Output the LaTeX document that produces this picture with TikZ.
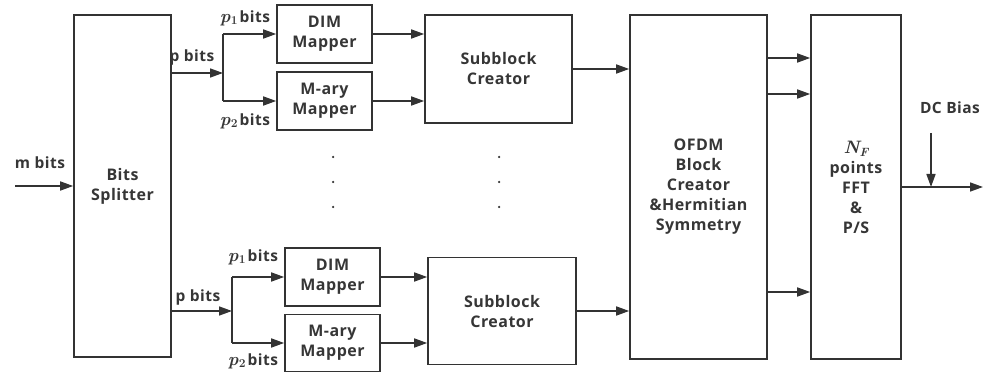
\documentclass[tikz,border=0pt]{standalone}
\usepackage{fontspec}
\setmainfont{Open Sans}[LetterSpace=3]
\newfontfamily\lmr{Latin Modern Roman}
\usetikzlibrary{arrows.meta,calc}
\definecolor{ln}{HTML}{333333}
\definecolor{tx}{HTML}{363636}
\newcommand\psub[1]{{\lmr\itshape\fontsize{18}{18}\selectfont p}\kern0.3pt\raisebox{-2.5pt}{\lmr\fontsize{12}{12}\selectfont #1}\kern2pt}
\newcommand\nf{{\lmr\itshape\fontsize{18}{18}\selectfont N}\raisebox{-3pt}{\lmr\itshape\fontsize{12}{12}\selectfont F}}
\tikzset{
  blk/.style={draw=ln,line width=1.6pt,inner sep=0pt,align=center,text=tx,
    font=\fontsize{16}{20}\selectfont\bfseries},
  arr/.style={draw=ln,line width=1.6pt,-{Triangle[length=13pt,width=9pt]}},
  wire/.style={draw=ln,line width=1.6pt},
  lbl/.style={text=tx,font=\fontsize{15.5}{18}\selectfont\bfseries,inner sep=0pt},
  dotm/.style={fill=ln,circle,inner sep=0pt,minimum size=2.5pt}
}
\begin{document}
\begin{tikzpicture}[x=1pt,y=-1pt]
\useasboundingbox (0,0) rectangle (983,374);
% boxes
\node[blk,minimum width=97pt,minimum height=342pt] (split) at (122.5,186) {Bits\\Splitter};
\node[blk,minimum width=95pt,minimum height=58pt] (dim1) at (324.5,34) {DIM\\Mapper};
\node[blk,minimum width=95pt,minimum height=58pt] (mary1) at (324.5,101) {M-ary\\Mapper};
\node[blk,minimum width=147pt,minimum height=108pt] (sub1) at (498.5,69) {Subblock\\Creator};
\node[blk,minimum width=95pt,minimum height=58pt] (dim2) at (332.5,277) {DIM\\Mapper};
\node[blk,minimum width=95pt,minimum height=57pt] (mary2) at (332.5,343) {M-ary\\Mapper};
\node[blk,minimum width=148pt,minimum height=107pt] (sub2) at (502,311) {Subblock\\Creator};
\node[blk,minimum width=137pt,minimum height=344pt] (ofdm) at (698.5,187) {OFDM\\Block\\Creator\\\&Hermitian\\Symmetry};
\node[blk,minimum width=90pt,minimum height=344pt] (fft) at (856,187) {\nf\\points\\FFT\\\&\\P/S};
% input
\coordinate (min) at (15,186);
\draw[arr] (min) -- (min -| split.west);
\node[lbl] (mlbl) at (40,163) {m bits};
% top branch
\coordinate (b1) at (223,73);
\draw[arr] (split.east |- b1) -- (b1);
\node[lbl] (plbl1) at (192,57) {p bits};
\draw[wire] (b1 |- dim1) -- (b1 |- mary1);
\draw[arr] (b1 |- dim1) -- (dim1.west);
\draw[arr] (b1 |- mary1) -- (mary1.west);
\node[lbl] (p1a) at (245,18) {\psub{1}bits};
\node[lbl] (p2a) at (245,121) {\psub{2}bits};
\draw[arr] (dim1.east) -- (dim1.east -| sub1.west);
\draw[arr] (mary1.east) -- (mary1.east -| sub1.west);
\draw[arr] (sub1.east) -- (sub1.east -| ofdm.west);
% bottom branch
\coordinate (b2) at (232,311);
\draw[arr] (split.east |- b2) -- (b2);
\node[lbl] (plbl2) at (198,297) {p bits};
\draw[wire] (b2 |- dim2) -- (b2 |- mary2);
\draw[arr] (b2 |- dim2) -- (dim2.west);
\draw[arr] (b2 |- mary2) -- (mary2.west);
\node[lbl] (p1b) at (253,257) {\psub{1}bits};
\node[lbl] (p2b) at (253,361) {\psub{2}bits};
\draw[arr] (dim2.east) -- (dim2.east -| sub2.west);
\draw[arr] (mary2.east) -- (mary2.east -| sub2.west);
\draw[arr] (sub2.east) -- (sub2.east -| ofdm.west);
% dots
\foreach \y [count=\i] in {157,182,207} {
  \node[dotm] (da\i) at (333,\y) {};
  \node[dotm] (db\i) at (499,\y) {};
}
% ofdm to fft
\foreach \y [count=\i] in {58,94,292} {
  \coordinate (o\i) at (ofdm.east |- 0,\y);
  \draw[arr] (o\i) -- (o\i -| fft.west);
}
% output
\coordinate (out) at (983,187);
\draw[arr] (fft.east |- out) -- (out);
\coordinate (dc) at (931,133);
\draw[arr] (dc) -- (dc |- out);
\node[lbl] (dclbl) at (950,108) {DC Bias};
\end{tikzpicture}
\end{document}
